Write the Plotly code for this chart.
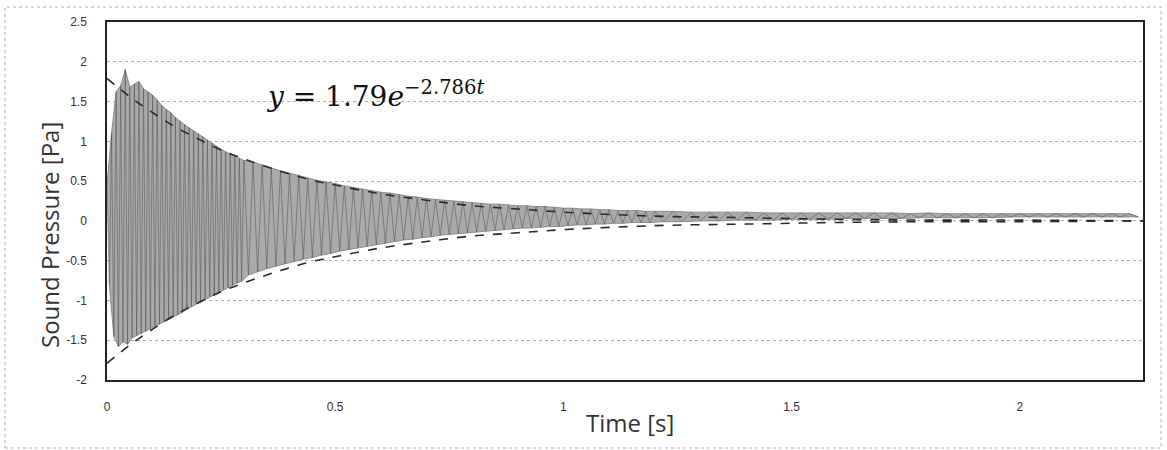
import plotly.graph_objects as go

# ---- data ----
# signal peaks (alternating high/low), in three segments with their own sample spacing
seg_a_start, seg_a_step = 0.000, 0.005
seg_a_vals = [0.45, -0.80, 1.10, -1.45, 1.62, -1.58, 1.70, -1.52, 1.90, -1.55,
              1.68, -1.47, 1.72, -1.44, 1.75, -1.42, 1.66, -1.39, 1.62, -1.36,
              1.58, -1.33, 1.52, -1.30, 1.45, -1.27, 1.40, -1.24, 1.36, -1.21,
              1.30, -1.18, 1.25, -1.15, 1.21, -1.11, 1.17, -1.07, 1.13, -1.04,
              1.10, -1.01, 1.06, -0.98, 1.02, -0.95, 0.98, -0.92, 0.94, -0.89,
              0.90, -0.86, 0.87, -0.84, 0.84, -0.81, 0.81, -0.78, 0.78, -0.76,
              0.76]
seg_b_start, seg_b_step = 0.31, 0.01
seg_b_vals = [-0.68, 0.74, -0.64, 0.70, -0.60, 0.66, -0.57, 0.63, -0.54, 0.60,
              -0.51, 0.57, -0.48, 0.54, -0.46, 0.51, -0.43, 0.49, -0.41, 0.47,
              -0.38, 0.44, -0.36, 0.42, -0.34, 0.40, -0.32, 0.38, -0.30, 0.36,
              -0.28, 0.35, -0.26, 0.33, -0.24, 0.31, -0.23, 0.30, -0.21, 0.28,
              -0.20, 0.27, -0.18, 0.26, -0.17, 0.25, -0.16, 0.24, -0.15, 0.23,
              -0.14, 0.22, -0.13, 0.21, -0.12, 0.21, -0.11, 0.20, -0.10, 0.19,
              -0.09, 0.19, -0.09, 0.18, -0.08, 0.18, -0.07, 0.17, -0.07, 0.16,
              -0.06, 0.16, -0.05, 0.15, -0.05, 0.15, -0.04, 0.14, -0.04, 0.14,
              -0.03, 0.13, -0.03, 0.13, -0.02, 0.13, -0.02, 0.12, -0.02, 0.12]
seg_c_start, seg_c_step = 1.22, 0.02
seg_c_vals = [-0.01, 0.12, -0.01, 0.11, 0.00, 0.11, 0.00, 0.11, 0.01, 0.11,
              0.01, 0.10, 0.01, 0.10, 0.02, 0.10, 0.02, 0.10, 0.02, 0.10,
              0.03, 0.10, 0.03, 0.10, 0.03, 0.10, 0.03, 0.09, 0.04, 0.10,
              0.04, 0.09, 0.04, 0.09, 0.04, 0.09, 0.04, 0.09, 0.05, 0.09,
              0.05, 0.09, 0.05, 0.09, 0.05, 0.09, 0.05, 0.09, 0.05, 0.09,
              0.05, 0.09, 0.05]

# fitted envelope y = 1.79 e^(-2.786 t), read at these times
env_t = [0, 0.05, 0.1, 0.15, 0.2, 0.25, 0.3, 0.35, 0.4, 0.45, 0.5, 0.6, 0.7,
         0.8, 0.9, 1.0, 1.2, 1.4, 1.6, 1.8, 2.0, 2.27]
env_p = [1.79, 1.56, 1.36, 1.18, 1.03, 0.89, 0.78, 0.68, 0.59, 0.51, 0.45, 0.34,
         0.26, 0.19, 0.15, 0.11, 0.06, 0.04, 0.02, 0.01, 0.01, 0.00]

x_ticks = [0, 0.5, 1, 1.5, 2]
x_tick_labels = ["0", "0.5", "1", "1.5", "2"]
y_ticks = [-2, -1.5, -1, -0.5, 0, 0.5, 1, 1.5, 2, 2.5]
y_tick_labels = ["-2", "-1.5", "-1", "-0.5", "0", "0.5", "1", "1.5", "2", "2.5"]

# ---- build signal time base ----
sig_t, sig_p = [], []
for start, step, vals in [(seg_a_start, seg_a_step, seg_a_vals),
                          (seg_b_start, seg_b_step, seg_b_vals),
                          (seg_c_start, seg_c_step, seg_c_vals)]:
    for i, v in enumerate(vals):
        sig_t.append(round(start + i * step, 4))
        sig_p.append(v)

# split peaks into highs and lows (each point is a local max or min)
hi_t, hi_p, lo_t, lo_p = [], [], [], []
n = len(sig_p)
for i in range(n):
    j = i + 1 if i + 1 < n else i - 1
    if sig_p[i] > sig_p[j]:
        hi_t.append(sig_t[i]); hi_p.append(sig_p[i])
    else:
        lo_t.append(sig_t[i]); lo_p.append(sig_p[i])

fig = go.Figure()
# gray band of the dense waveform
fig.add_trace(go.Scatter(x=hi_t + lo_t[::-1], y=hi_p + lo_p[::-1], mode="lines",
                         fill="toself", fillcolor="rgb(170,170,170)",
                         line=dict(color="rgb(140,140,140)", width=1),
                         showlegend=False, hoverinfo="skip"))
# oscillation strokes
fig.add_trace(go.Scatter(x=sig_t, y=sig_p, mode="lines",
                         line=dict(color="rgba(80,80,80,0.5)", width=1),
                         showlegend=False, hoverinfo="skip"))
fig.add_trace(go.Scatter(x=env_t, y=env_p, mode="lines", line_shape="spline",
                         line=dict(color="#2a2a2a", width=1.6, dash="dash"),
                         showlegend=False))
fig.add_trace(go.Scatter(x=env_t, y=[-v for v in env_p], mode="lines", line_shape="spline",
                         line=dict(color="#2a2a2a", width=1.6, dash="dash"),
                         showlegend=False))

W, H = 1167, 450
L, R, T, B = 107, 24, 22, 70
pw, ph = W - L - R, H - T - B

def px_x(px):
    return (px - L) / pw

def px_y(py):
    return (H - B - py) / ph

tick_font = dict(family="Liberation Sans Narrow, Liberation Sans", size=12, color="#333333")

fig.update_layout(
    width=W, height=H,
    margin=dict(l=L, r=R, t=T, b=B, autoexpand=False),
    paper_bgcolor="white", plot_bgcolor="white",
    font=dict(family="Open Sans", color="#333333"),
    xaxis=dict(range=[0, 2.27], tickvals=x_ticks, ticktext=x_tick_labels,
               showgrid=False, zeroline=False, showline=True, linecolor="#222222",
               linewidth=1.5, mirror=True, ticks="", ticklabelstandoff=15,
               automargin=False, tickfont=tick_font),
    yaxis=dict(range=[-2, 2.5], tickvals=y_ticks, ticktext=y_tick_labels,
               showgrid=True, gridcolor="#b0b0b0", griddash="dot", gridwidth=1,
               zeroline=False, showline=True, linecolor="#222222", linewidth=1.5,
               mirror=True, ticks="", ticklabelstandoff=16,
               automargin=False, tickfont=tick_font),
    shapes=[dict(type="rect", xref="paper", yref="paper",
                 x0=px_x(5), x1=px_x(1161), y0=px_y(448), y1=px_y(7),
                 line=dict(color="#b0b0b0", width=1, dash="dot"), layer="below")],
    annotations=[
        dict(text="Sound Pressure [Pa]", xref="paper", yref="paper",
             x=px_x(50), y=px_y(235), textangle=-90, showarrow=False,
             xanchor="center", yanchor="middle",
             font=dict(family="Open Sans", size=24, color="#333333")),
        dict(text="Time [s]", xref="paper", yref="paper",
             x=px_x(630), y=px_y(422), showarrow=False,
             xanchor="center", yanchor="middle",
             font=dict(family="Open Sans", size=24, color="#333333")),
        dict(text="<i>y</i> = 1.79<i>e</i><sup>−2.786<i>t</i></sup>",
             xref="paper", yref="paper", x=px_x(264), y=px_y(94),
             showarrow=False, xanchor="left", yanchor="middle",
             font=dict(family="DejaVu Serif", size=28, color="#111111")),
    ],
)

fig.write_html("out.html", config={"displayModeBar": False},
               post_script="document.body.style.margin='0';document.body.style.overflow='hidden';")
